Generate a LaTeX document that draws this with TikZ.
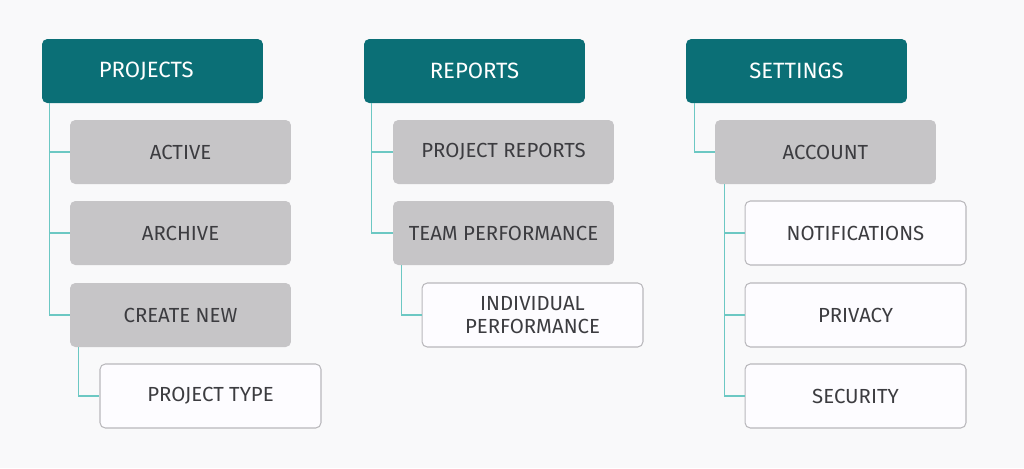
\documentclass[tikz,border=0pt]{standalone}
\usepackage{fontspec}
\setmainfont{Fira Sans}
\usepackage{tikz}
\usetikzlibrary{calc}
\definecolor{headteal}{HTML}{0B6F76}
\definecolor{linkteal}{HTML}{6CC8C3}
\definecolor{itemgrey}{HTML}{C6C5C7}
\definecolor{boxline}{HTML}{B9B8BC}
\definecolor{inktext}{HTML}{3C3C40}
\definecolor{leaffill}{HTML}{FDFCFF}
\definecolor{pagebg}{HTML}{F9F9FA}
\tikzset{
  menubox/.style={rectangle, rounded corners=3pt, minimum width=4.42cm,
    minimum height=1.28cm, inner sep=0pt, align=center,
    font=\fontsize{11.6}{13}\selectfont},
  head/.style={menubox, fill=headteal, text=white,
    font=\fontsize{12.6}{14}\selectfont},
  item/.style={menubox, fill=itemgrey, text=inktext},
  leaf/.style={menubox, fill=leaffill, draw=boxline, line width=0.6pt, text=inktext},
  link/.style={draw=linkteal, line width=0.8pt}
}
\begin{document}
\begin{tikzpicture}[x=0.02cm, y=-0.02cm]
  \fill[pagebg] (0,0) rectangle (1024,468);
  \useasboundingbox (0,0) rectangle (1024,468);

  % projects column
  \node[head] (proj) at (152.5,71) {PROJECTS\hspace*{18\pgflinewidth}};
  \node[item] (act)  at (180.5,152) {ACTIVE};
  \node[item] (arch) at (180.5,233) {ARCHIVE};
  \node[item] (new)  at (180.5,315) {CREATE NEW};
  \node[leaf] (ptype) at (210.5,396) {PROJECT TYPE};

  % reports column
  \node[head] (rep)   at (474.5,71) {REPORTS};
  \node[item] (prep)  at (503.5,152) {PROJECT REPORTS};
  \node[item] (team)  at (503.5,233) {TEAM PERFORMANCE};
  \node[leaf] (indiv) at (532.5,315) {INDIVIDUAL\\[0pt]PERFORMANCE};

  % settings column
  \node[head] (set)   at (796.5,71) {SETTINGS};
  \node[item] (acc)   at (825.5,152) {ACCOUNT};
  \node[leaf] (notif) at (855.5,233) {NOTIFICATIONS};
  \node[leaf] (priv)  at (855.5,315) {PRIVACY};
  \node[leaf] (sec)   at (855.5,396) {SECURITY};

  % connectors
  \path[link]
    ($(proj.south west)+(8,0)$) |- (act.west)
    ($(proj.south west)+(8,0)$) |- (arch.west)
    ($(proj.south west)+(8,0)$) |- (new.west)
    ($(new.south west)+(9,0)$) |- (ptype.west)
    ($(rep.south west)+(8,0)$) |- (prep.west)
    ($(rep.south west)+(8,0)$) |- (team.west)
    ($(team.south west)+(9,0)$) |- (indiv.west)
    ($(set.south west)+(9,0)$) |- (acc.west)
    ($(acc.south west)+(10,0)$) |- (notif.west)
    ($(acc.south west)+(10,0)$) |- (priv.west)
    ($(acc.south west)+(10,0)$) |- (sec.west);
\end{tikzpicture}
\end{document}
